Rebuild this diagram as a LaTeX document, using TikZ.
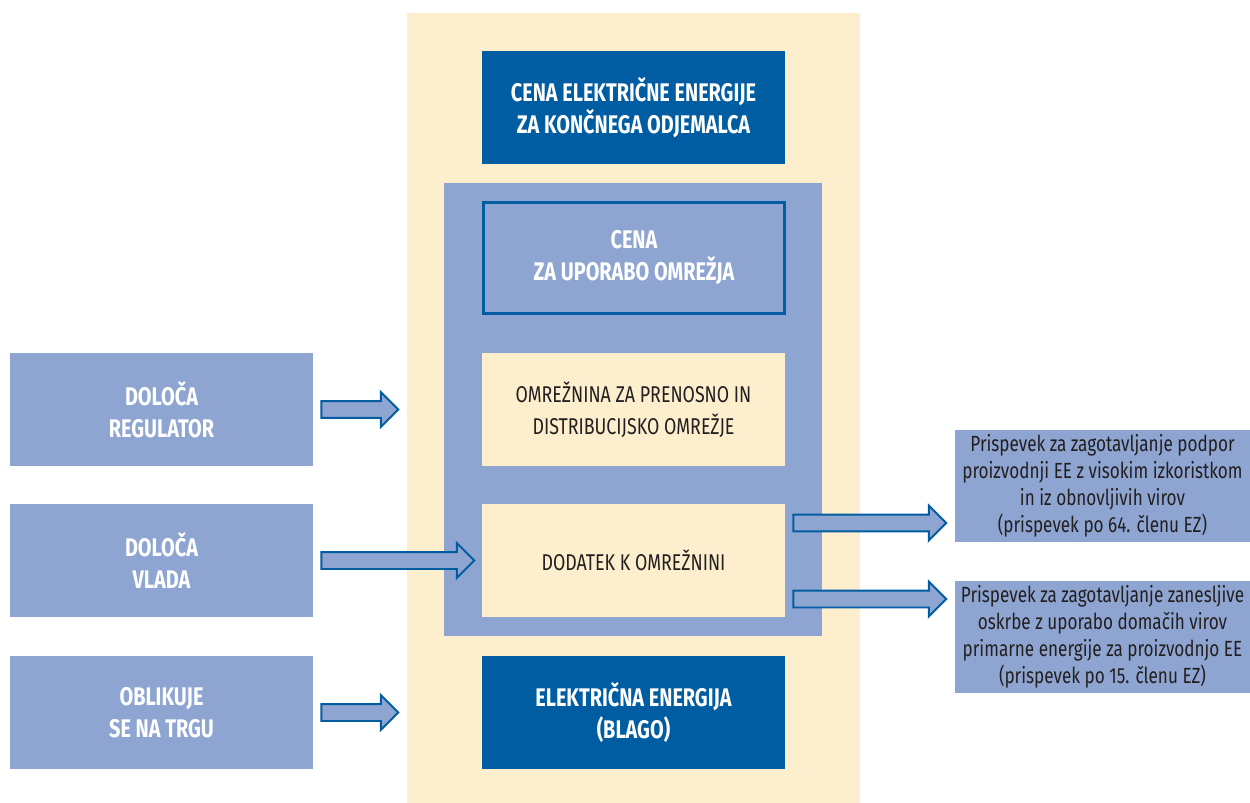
\documentclass[tikz,border=0pt]{standalone}
\usepackage{fontspec}
\setmainfont{Fira Sans}[FakeStretch=0.78]
\usetikzlibrary{shapes,arrows,positioning,calc}

\definecolor{darkblue}{RGB}{0,93,161}
\definecolor{midblue}{RGB}{142,165,209}
\definecolor{cream}{RGB}{253,239,205}
\definecolor{textgray}{RGB}{35,31,32}

\begin{document}
\begin{tikzpicture}[x=0.02cm, y=-0.02cm,
    box/.style={rectangle, minimum width=6.06cm, minimum height=2.26cm, inner sep=0pt, align=center},
    darkbox/.style={box, fill=darkblue, text=white, font=\bfseries\fontsize{14.5}{18.2}\selectfont},
    lightbox/.style={box, fill=cream, text=textgray, font=\fontsize{13}{18.2}\selectfont},
    sidebox/.style={box, fill=midblue, text=white, font=\bfseries\fontsize{14.5}{18.2}\selectfont},
    notebox/.style={rectangle, fill=midblue, text=textgray, minimum width=5.9cm, minimum height=2.24cm, inner sep=0pt, align=center, font=\fontsize{12.5}{15.4}\selectfont},
    blockarrow/.style={single arrow, draw=darkblue, fill=midblue, line width=1.1pt, inner xsep=0pt, inner ysep=0.15cm, single arrow head extend=0.18cm, single arrow tip angle=90}
]
\useasboundingbox (0,0) rectangle (1250,803);

% Background areas
\fill[cream] (407,13) rectangle (860,803);
\fill[midblue] (444,183) rectangle (822,636);

% Price blocks
\node[darkbox] (koncni) at (633.5,107.5) {CENA ELEKTRIČNE ENERGIJE\\ZA KONČNEGA ODJEMALCA};
\node[box, fill=midblue, draw=darkblue, line width=2.2pt, text=white, font=\bfseries\fontsize{14.5}{18.2}\selectfont, minimum width=6.02cm, minimum height=2.22cm] (uporaba) at (634,258) {CENA\\ZA UPORABO OMREŽJA};
\node[lightbox] (omreznina) at (633.5,409.5) {OMREŽNINA ZA PRENOSNO IN\\DISTRIBUCIJSKO OMREŽJE};
\node[lightbox] (dodatek) at (633.5,560.5) {DODATEK K OMREŽNINI};
\node[darkbox] (blago) at (633.5,712.5) {ELEKTRIČNA ENERGIJA\\(BLAGO)};

% Who sets the price
\node[sidebox] (regulator) at (161.5,409.5) {DOLOČA\\REGULATOR};
\node[sidebox] (vlada) at (161.5,560.5) {DOLOČA\\VLADA};
\node[sidebox] (trg) at (161.5,712.5) {OBLIKUJE\\SE NA TRGU};

% Contributions
\node[notebox] (clen64) at (1102.5,486) {Prispevek za zagotavljanje podpor\\proizvodnji EE z visokim izkoristkom\\in iz obnovljivih virov\\(prispevek po 64. členu EZ)};
\node[notebox] (clen15) at (1102.5,637) {Prispevek za zagotavljanje zanesljive\\oskrbe z uporabo domačih virov\\primarne energije za proizvodnjo EE\\(prispevek po 15. členu EZ)};

% Arrows
\node[blockarrow, minimum height=1.54cm, right=0.14cm of regulator] (arrreg) {};
\node[blockarrow, minimum height=3.06cm, right=0.14cm of vlada] (arrvlada) {};
\node[blockarrow, minimum height=1.54cm, right=0.14cm of trg] (arrtrg) {};
\node[blockarrow, minimum height=3.06cm, anchor=west] (arr64) at ($(dodatek.east)+(7,-37.5)$) {};
\node[blockarrow, minimum height=3.06cm, anchor=west] (arr15) at ($(dodatek.east)+(7,38.5)$) {};

\end{tikzpicture}
\end{document}
